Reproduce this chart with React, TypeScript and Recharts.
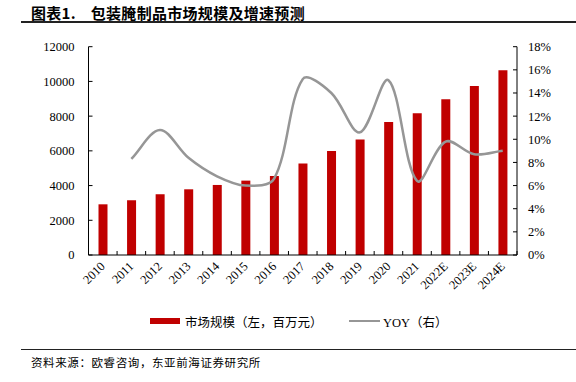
import React from "react";
import { ComposedChart, Bar, Line, XAxis, YAxis } from "recharts";

const categories = ["2010", "2011", "2012", "2013", "2014", "2015", "2016", "2017", "2018", "2019", "2020", "2021", "2022E", "2023E", "2024E"];
const marketSize = [2920, 3150, 3500, 3785, 4035, 4285, 4550, 5265, 5995, 6650, 7665, 8165, 8970, 9740, 10645];
const yoy = [null, 8.3, 10.8, 8.4, 6.8, 6.0, 6.6, 15.2, 14.0, 10.6, 15.1, 6.4, 9.8, 8.7, 9.0];
const leftTicks = [0, 2000, 4000, 6000, 8000, 10000, 12000];
const rightTicks = [0, 2, 4, 6, 8, 10, 12, 14, 16, 18];

const data = categories.map((c, i) => ({ name: c, size: marketSize[i], yoy: yoy[i] }));

const SERIF = "'Liberation Serif', 'Times New Roman', 'Noto Sans CJK SC', serif";
const CJK = "'Liberation Serif', 'Noto Sans CJK SC', serif";

const LEFT = 88.5;
const RIGHT = 517;
const BOTTOM = 255;
const BAND = (RIGHT - LEFT) / categories.length;

const dist = (a: [number, number], b: [number, number]) => Math.hypot(b[0] - a[0], b[1] - a[1]);

function smoothCurve(context: any) {
  let pts: [number, number][] = [];
  return {
    areaStart() {},
    areaEnd() {},
    lineStart() {
      pts = [];
    },
    point(x: number, y: number) {
      pts.push([+x, +y]);
    },
    lineEnd() {
      if (!pts.length) return;
      context.moveTo(pts[0][0], pts[0][1]);
      for (let i = 0; i < pts.length - 1; i++) {
        const p0 = pts[i - 1] || pts[i];
        const p1 = pts[i];
        const p2 = pts[i + 1];
        const p3 = pts[i + 2] || p2;
        const d01 = dist(p0, p1);
        const d12 = dist(p1, p2);
        const d23 = dist(p2, p3);
        const f1 = d01 + d12 > 0 ? d12 / (d01 + d12) / 3 : 0;
        const f2 = d12 + d23 > 0 ? d12 / (d12 + d23) / 3 : 0;
        context.bezierCurveTo(
          p1[0] + (p2[0] - p0[0]) * f1,
          p1[1] + (p2[1] - p0[1]) * f1,
          p2[0] - (p3[0] - p1[0]) * f2,
          p2[1] - (p3[1] - p1[1]) * f2,
          p2[0],
          p2[1]
        );
      }
    },
  };
}

const XTick = (props: any) => {
  const { x, payload } = props;
  const bx = x + BAND / 2;
  return (
    <g>
      <line x1={bx} x2={bx} y1={BOTTOM} y2={BOTTOM - 4} stroke="#000" strokeWidth={1} />
      <text
        x={x + 3}
        y={BOTTOM + 12}
        textAnchor="end"
        transform={`rotate(-45, ${x + 3}, ${BOTTOM + 12})`}
        fontFamily={SERIF}
        fontSize={12.5}
        fill="#000"
      >
        {payload.value}
      </text>
    </g>
  );
};

export default function App() {
  return (
    <div style={{ position: "absolute", left: 0, top: 0, width: 576, height: 382, background: "#fff", overflow: "hidden" }}>
      <div
        style={{
          position: "absolute",
          left: 31,
          top: 2,
          fontFamily: "'Noto Sans CJK SC', sans-serif",
          fontWeight: 700,
          fontSize: 15,
          color: "#000",
          whiteSpace: "nowrap",
          letterSpacing: 0.3,
        }}
      >
        图表1.&nbsp;&nbsp;&nbsp;&nbsp;包装腌制品市场规模及增速预测
      </div>
      <div style={{ position: "absolute", left: 21, top: 21, width: 555, height: 1.5, background: "#222" }} />
      <ComposedChart
        width={576}
        height={382}
        data={data}
        margin={{ top: 46.7, right: 0, bottom: 97, left: 28.5 }}
        barCategoryGap={0}
        style={{ position: "absolute", left: 0, top: 0 }}
      >
        <XAxis
          dataKey="name"
          xAxisId="x"
          height={30}
          axisLine={{ stroke: "#000", strokeWidth: 1 }}
          tickLine={false}
          interval={0}
          tick={<XTick />}
        />
        <YAxis
          yAxisId="left"
          orientation="left"
          width={60}
          domain={[0, 12000]}
          ticks={leftTicks}
          interval={0}
          axisLine={{ stroke: "#000", strokeWidth: 1 }}
          tickLine={{ stroke: "#000", strokeWidth: 1 }}
          tickSize={-4}
          tickMargin={18}
          tick={{ fontFamily: SERIF, fontSize: 12.5, fill: "#000" }}
        />
        <YAxis
          yAxisId="right"
          orientation="right"
          width={59}
          domain={[0, 18]}
          ticks={rightTicks}
          interval={0}
          tickFormatter={(v: number) => `${v}%`}
          axisLine={{ stroke: "#000", strokeWidth: 1 }}
          tickLine={{ stroke: "#000", strokeWidth: 1 }}
          tickSize={-4}
          tickMargin={15}
          tick={{ fontFamily: SERIF, fontSize: 12.5, fill: "#000", textAnchor: "start" }}
        />
        <Bar xAxisId="x" yAxisId="left" dataKey="size" fill="#C00000" barSize={9} isAnimationActive={false} />
        <Line
          xAxisId="x"
          yAxisId="right"
          dataKey="yoy"
          type={smoothCurve as any}
          stroke="#969696"
          strokeWidth={2.5}
          dot={false}
          activeDot={false}
          connectNulls={false}
          isAnimationActive={false}
        />
      </ComposedChart>
      <div
        style={{
          position: "absolute",
          left: 0,
          top: 311,
          width: 576,
          height: 20,
          fontFamily: CJK,
          fontSize: 12.5,
          color: "#000",
        }}
      >
        <div style={{ position: "absolute", left: 149.5, top: 6.5, width: 30.5, height: 6, background: "#C00000" }} />
        <div style={{ position: "absolute", left: 185, top: 1, whiteSpace: "nowrap" }}>市场规模（左，百万元）</div>
        <div style={{ position: "absolute", left: 348.5, top: 8.5, width: 31.5, height: 2.5, background: "#969696" }} />
        <div style={{ position: "absolute", left: 383, top: 1, whiteSpace: "nowrap" }}>YOY（右）</div>
      </div>
      <div style={{ position: "absolute", left: 21, top: 348.5, width: 555, height: 1.5, background: "#222" }} />
      <div
        style={{
          position: "absolute",
          left: 31,
          top: 354,
          fontFamily: CJK,
          fontSize: 11.5,
          color: "#000",
          whiteSpace: "nowrap",
          letterSpacing: 0.6,
        }}
      >
        资料来源：欧睿咨询，东亚前海证券研究所
      </div>
    </div>
  );
}
